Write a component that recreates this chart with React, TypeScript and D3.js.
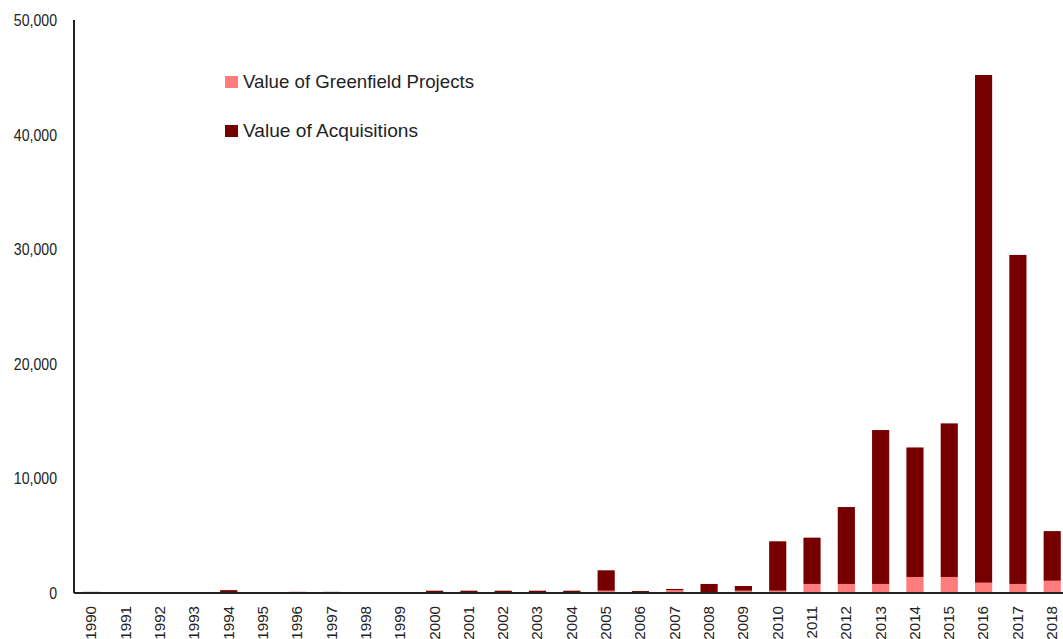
import React from 'react';
import * as d3 from 'd3';

const years = [
    '1990', '1991', '1992', '1993', '1994', '1995', '1996', '1997', '1998', '1999',
    '2000', '2001', '2002', '2003', '2004', '2005', '2006', '2007', '2008', '2009',
    '2010', '2011', '2012', '2013', '2014', '2015', '2016', '2017', '2018',
];

const greenfield = [
    30, 0, 0, 0, 50, 20, 30, 30, 20, 0,
    50, 50, 50, 50, 50, 200, 30, 250, 60, 200,
    200, 790, 790, 790, 1400, 1400, 900, 790, 1070,
];

const acquisitions = [
    70, 0, 0, 0, 200, 30, 70, 70, 30, 0,
    150, 150, 150, 150, 150, 1780, 140, 100, 730, 410,
    4310, 4040, 6710, 13430, 11300, 13400, 44300, 28710, 4330,
];

const yTicks = [0, 10000, 20000, 30000, 40000, 50000];

const legendItems = [
    { label: 'Value of Greenfield Projects', color: '#ff7c7c', len: 231 },
    { label: 'Value of Acquisitions', color: '#760000', len: 175 },
];

const font = '"Liberation Sans", Arial, sans-serif';

export default function App() {
    const width = 1063;
    const height = 639;
    const margin = { left: 74, top: 20, bottom: 46 };

    // bars are centred 34.3px apart, first at 91.5
    const x = d3
        .scaleBand()
        .domain(years)
        .range([74.35, 1069.35])
        .paddingInner(0.5)
        .paddingOuter(0.25);

    const y = d3.scaleLinear([0, 50000], [height - margin.bottom, margin.top]);

    const fmt = d3.format(',');

    return (
        <div style={{ position: 'absolute', left: 0, top: 0 }}>
            <svg width={width} height={height} style={{ display: 'block', fontFamily: font }}>
                <rect width={width} height={height} fill="#ffffff" />
                {years.map((yr, i) => {
                    const g = greenfield[i];
                    const a = acquisitions[i];
                    const bx = x(yr);
                    return (
                        <g key={yr}>
                            {g > 0 && (
                                <rect
                                    x={bx}
                                    width={x.bandwidth()}
                                    y={y(g)}
                                    height={y(0) - y(g)}
                                    fill={legendItems[0].color}
                                />
                            )}
                            {a > 0 && (
                                <rect
                                    x={bx}
                                    width={x.bandwidth()}
                                    y={y(g + a)}
                                    height={y(g) - y(g + a)}
                                    fill={legendItems[1].color}
                                />
                            )}
                        </g>
                    );
                })}

                {/* axes */}
                <line x1={margin.left} x2={margin.left} y1={y(50000)} y2={y(0)} stroke="#222" strokeWidth={2} />
                <line x1={margin.left} x2={width} y1={y(0)} y2={y(0)} stroke="#222" strokeWidth={2} />

                {yTicks.map((t) => (
                    <text
                        key={t}
                        transform={`translate(57,${y(t)}) scale(0.83,1)`}
                        dy="0.35em"
                        textAnchor="end"
                        fontSize={17}
                        fill="#222"
                    >
                        {fmt(t)}
                    </text>
                ))}

                {years.map((yr) => (
                    <text
                        key={yr}
                        transform={`translate(${x(yr) + x.bandwidth() / 2},606) rotate(-90) scale(1.08,1)`}
                        dy="0.35em"
                        textAnchor="end"
                        fontSize={14}
                        fill="#222"
                    >
                        {yr}
                    </text>
                ))}

                {legendItems.map((d, i) => (
                    <g key={d.label} transform={`translate(225,${76 + i * 49})`}>
                        <rect width={13} height={12} fill={d.color} />
                        <text
                            x={18}
                            y={5}
                            dy="0.36em"
                            fontSize={18.5}
                            fill="#222"
                            textLength={d.len}
                            lengthAdjust="spacingAndGlyphs"
                        >
                            {d.label}
                        </text>
                    </g>
                ))}
            </svg>
        </div>
    );
}
